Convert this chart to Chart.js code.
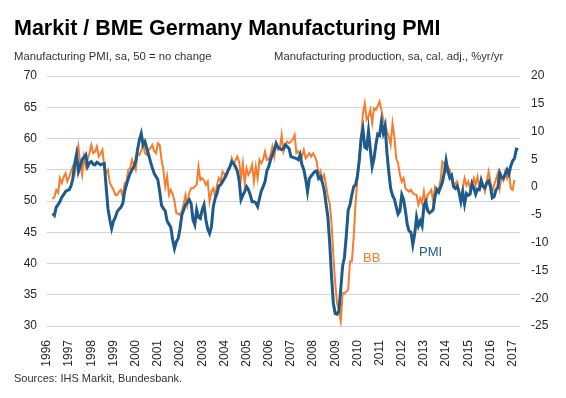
<!DOCTYPE html>
<html><head><meta charset="utf-8">
<script src="https://cdn.jsdelivr.net/npm/chart.js@4"></script>
<style>
html,body{margin:0;padding:0;background:#fff;}
#wrap{position:relative;width:566px;height:398px;overflow:hidden;font-family:"Liberation Sans",Arial,sans-serif;}
canvas{position:absolute;left:0;top:0;}
.t{position:absolute;white-space:nowrap;}
#title{left:14px;top:18px;font-size:21.5px;line-height:21px;font-weight:bold;color:#000;}
#subL{left:14px;top:51px;font-size:11.3px;line-height:11.5px;color:#333;}
#subR{left:274px;top:51px;font-size:11.3px;line-height:11.5px;color:#333;}
#src{left:14px;top:373px;font-size:11px;line-height:11px;color:#333;}
#lblBB{left:363px;top:251px;font-size:13px;line-height:13px;color:#f97b2c;}
#lblPMI{left:419px;top:245px;font-size:13px;line-height:13px;color:#1d5b8c;}
</style></head><body>
<div id="wrap">
<canvas id="c" width="566" height="398"></canvas>
<div class="t" id="title">Markit / BME Germany Manufacturing PMI</div>
<div class="t" id="subL">Manufacturing PMI, sa, 50 = no change</div>
<div class="t" id="subR">Manufacturing production, sa, cal. adj., %yr/yr</div>
<div class="t" id="src">Sources: IHS Markit, Bundesbank.</div>
<div class="t" id="lblBB">BB</div>
<div class="t" id="lblPMI">PMI</div>
</div>
<script>
// Monthly categories: Jan 1996 .. May 2017
const firstYear = 1996, lastYear = 2017, lastMonth = 5;
const seriesStart = 3; // both series begin Apr 1996

// Markit/BME Germany Manufacturing PMI (left axis), Apr 1996 - Apr 2017
const pmi = [
  48.0, 47.7, 49.0, 49.4, 49.9, 50.6, 51.0, 51.5, 51.7,
  51.8, 52.4, 53.6, 56.0, 57.5, 54.7, 55.6, 56.6, 57.0, 57.4, 55.5, 56.1,
  56.3, 55.9, 55.8, 56.2, 56.0, 55.8, 55.9, 56.0, 52.3, 48.8, 47.0, 45.6,
  46.8, 47.4, 48.3, 48.7, 49.0, 49.6, 51.5, 52.6, 53.6, 54.4, 55.0, 55.5,
  56.3, 58.2, 59.8, 60.8, 59.0, 59.5, 58.4, 57.4, 56.3, 55.3, 54.4, 53.9,
  53.4, 51.5, 49.3, 48.8, 48.4, 46.8, 46.3, 45.8, 43.8, 42.4, 43.5, 44.0,
  45.6, 47.8, 48.6, 49.4, 49.8, 50.2, 49.6, 47.0, 46.2, 48.6, 47.4, 47.2,
  48.6, 49.4, 47.0, 45.5, 44.8, 45.9, 49.1, 50.4, 51.2, 52.4, 52.6, 53.1,
  53.6, 54.2, 54.9, 55.5, 56.3, 56.0, 55.5, 54.8, 53.3, 50.2, 50.9, 51.5,
  52.3, 51.8, 51.0, 49.9, 49.9, 49.7, 49.1, 50.4, 51.6, 52.3, 53.1, 54.8,
  55.5, 56.6, 57.4, 58.2, 59.2, 58.6, 58.4, 58.2, 58.4, 59.0, 58.7, 58.4,
  57.1, 57.0, 56.9, 56.8, 56.6, 57.4, 55.8, 55.0, 53.5, 51.5, 53.6, 54.0,
  54.4, 54.7, 54.8, 53.6, 53.9, 53.0, 51.8, 49.6, 47.5, 43.3, 37.9, 33.6,
  32.0, 31.9, 32.4, 36.0, 39.6, 41.0, 44.5, 48.5, 49.4, 51.0, 52.3, 52.6,
  54.0, 56.5, 60.0, 61.5, 58.6, 58.4, 61.2, 58.2, 55.5, 56.8, 59.0, 60.7,
  60.5, 62.7, 60.9, 62.0, 57.7, 54.6, 52.0, 50.9, 50.3, 49.1, 47.9, 48.4,
  51.0, 50.2, 48.4, 46.2, 45.2, 45.0, 43.0, 44.7, 47.4, 46.0, 46.8, 46.0,
  49.3, 49.9, 48.5, 48.1, 48.3, 48.6, 50.7, 51.8, 51.4, 52.2, 53.0, 54.5,
  56.5, 54.8, 53.7, 54.1, 52.3, 52.0, 52.4, 51.4, 49.9, 51.4, 49.5, 51.2,
  50.9, 51.1, 52.8, 52.1, 51.1, 51.9, 51.8, 53.3, 52.3, 52.1, 52.9, 53.2,
  52.3, 50.5, 50.7, 51.8, 52.1, 54.5, 53.8, 53.6, 54.3, 55.0, 54.3, 55.6,
  56.4, 56.8, 58.3, 58.2
];

// Bundesbank manufacturing production, %yr/yr (right axis), Apr 1996 - Feb 2017
const production = [
  -2.1, -1.8, -0.5, -1.0, 1.6, 0.7, 1.8, 2.5, 1.0,
  1.8, 2.8, 3.7, 2.5, 5.2, 7.3, 4.0, 2.2, 5.5, 3.7, 5.0, 6.1,
  7.6, 6.1, 6.4, 7.3, 5.5, 6.0, 6.7, 3.7, 2.5, 3.1, 0.7, 0.1,
  -0.5, -1.4, -1.4, -0.8, -0.5, -1.7, 0.7, 1.0, 3.1, 3.4, 4.9, 4.0,
  3.1, 6.1, 5.8, 6.5, 7.9, 6.1, 5.8, 6.7, 7.0, 7.6, 6.5, 6.1,
  7.9, 7.6, 4.9, 3.1, 0.1, 1.9, -1.4, -0.5, -1.2, -2.6, -4.7, -4.8,
  -5.0, -4.4, -3.0, -1.4, -3.2, -1.0, -0.2, -0.2, 0.1, 0.4, 3.7, 1.3,
  1.6, 1.2, 0.4, 1.0, -2.6, -0.8, -0.2, -1.7, 0.4, 1.6, 1.0, 2.8,
  2.4, 1.9, 2.8, 3.4, 5.2, 4.3, 4.8, 5.5, 4.6, 1.6, 4.3, 0.7,
  3.4, 2.2, 2.8, 4.0, 1.0, 3.7, 1.6, 4.9, 4.3, 5.0, 6.4, 4.9,
  5.0, 5.8, 7.3, 5.5, 7.9, 6.7, 6.8, 9.4, 6.4, 7.5, 8.2, 7.9,
  8.2, 8.6, 9.4, 6.1, 6.4, 6.0, 5.5, 6.7, 5.2, 5.6, 6.1, 5.5,
  6.1, 5.5, 4.6, 2.2, 2.9, 1.4, 2.2, 0.4, -1.7, -2.9, -6.5, -12.5,
  -17.3, -20.9, -22.1, -24.2, -19.1, -19.1, -18.8, -18.5, -13.4, -13.4, -8.9, -2.9,
  1.3, 4.9, 9.1, 13.3, 15.1, 12.1, 12.7, 13.9, 11.5, 14.2, 13.9, 14.6,
  15.4, 13.9, 12.1, 11.2, 10.0, 9.1, 7.6, 11.5, 9.1, 5.2, 4.3, 2.2,
  1.0, 1.6, -0.2, -0.5, -0.8, -0.5, -1.1, -1.3, -1.4, -3.2, -2.0, -2.9,
  -0.8, -3.2, -1.4, -1.0, -0.5, -2.6, 0.1, -0.3, -0.5, 1.3, 4.6, 4.3,
  2.8, 3.6, 3.1, 1.6, 0.1, 0.7, 1.0, -0.8, -2.3, -0.2, 1.6, 0.3,
  1.0, -0.2, 0.4, 1.6, 0.4, 1.9, 0.1, 1.3, 0.4, -0.8, 1.0, 2.8,
  1.0, -0.8, 0.4, 1.4, 2.5, -0.2, 1.9, 1.2, 2.8, 1.6, 2.8, -0.2,
  -0.5, 1.3
];

const months = [];
for (let y = firstYear; y <= lastYear; y++) {
  for (let m = 1; m <= 12; m++) {
    if (y === lastYear && m > lastMonth) break;
    months.push(y + '-' + String(m).padStart(2, '0'));
  }
}
const lead = new Array(seriesStart).fill(null);

const tickFont = { family: '"Liberation Sans", Arial, sans-serif', size: 12 };

new Chart(document.getElementById('c'), {
  type: 'line',
  data: {
    labels: months,
    datasets: [
      { label: 'BB', data: lead.concat(production), yAxisID: 'y2',
        borderColor: '#f97b2c', borderWidth: 2, pointRadius: 0, tension: 0, order: 2 },
      { label: 'PMI', data: lead.concat(pmi), yAxisID: 'y',
        borderColor: '#1d5b8c', borderWidth: 3, pointRadius: 0, tension: 0, order: 1 }
    ]
  },
  options: {
    responsive: false,
    animation: false,
    devicePixelRatio: 1,
    layout: { padding: { top: 76, left: 0, right: 0, bottom: 0 } },
    plugins: { legend: { display: false }, tooltip: { enabled: false }, title: { display: false } },
    scales: {
      x: {
        type: 'category', offset: false,
        grid: { display: false }, border: { display: false },
        ticks: {
          autoSkip: false, minRotation: 90, maxRotation: 90, padding: 6,
          font: tickFont, color: '#262626',
          callback: function (v) {
            const l = this.getLabelForValue(v);
            return l.endsWith('-01') ? l.slice(0, 4) : '';
          }
        },
        afterFit: s => { s.height = 72; }
      },
      y: {
        position: 'left', min: 30, max: 70,
        grid: { color: '#d4d4d4', lineWidth: 1, drawTicks: false },
        border: { display: false },
        ticks: { stepSize: 5, padding: 10, font: tickFont, color: '#262626' },
        afterFit: s => { s.width = 47; }
      },
      y2: {
        position: 'right', min: -25, max: 20,
        grid: { drawOnChartArea: false, drawTicks: false },
        border: { display: false },
        ticks: { stepSize: 5, padding: 11, font: tickFont, color: '#262626' },
        afterFit: s => { s.width = 46; }
      }
    }
  }
});
</script>
</body></html>
